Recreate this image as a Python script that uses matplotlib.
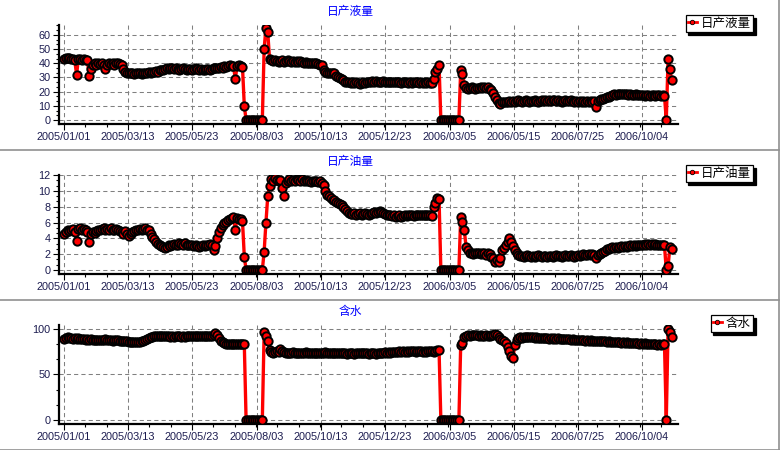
import matplotlib
matplotlib.use('Agg')
import matplotlib.pyplot as plt
from matplotlib.lines import Line2D
from matplotlib.ticker import AutoMinorLocator
import pandas as pd

plt.rcParams['font.family'] = ['Liberation Sans', 'Noto Sans CJK SC', 'DejaVu Sans']

# one reading every two days, starting 2005/01/01
start_date = '2005-01-01'
step = '2D'

liquid = [
    43, 44, 43.5, 44, 43, 43, 42, 32, 43, 43,
    42, 43, 42, 42, 31, 36, 39, 40, 39, 40,
    39.5, 40, 39, 36, 39, 40, 39.5, 40, 39, 40,
    40, 39.5, 39, 36, 34, 33.5, 33, 33.5, 33, 32.5,
    33, 33.5, 33, 32.5, 33, 33.5, 33, 34, 33.5, 34,
    34, 34.5, 34, 35, 35.5, 35, 36, 36.5, 36, 36.5,
    36.5, 36, 36.5, 36, 35.5, 36, 36.5, 36, 35.5, 36,
    36, 35.5, 36, 36.5, 36, 35.5, 36, 35, 35.5, 36,
    36, 35.5, 36, 36.5, 37, 36.5, 37, 37.5, 37, 38,
    37.5, 38, 38.5, 38, 38, 29, 38, 38.5, 38, 37.5,
    10, 0, 0, 0, 0, 0, 0, 0, 0, 0,
    0, 50, 65, 62, 43, 42, 41.5, 42, 41.5, 41,
    41.5, 42, 41, 41.5, 42, 41.5, 41, 41.5, 41, 41.5,
    41, 41.5, 41, 40.5, 41, 40.5, 40, 40.5, 40, 40,
    40, 39.5, 39, 38.5, 35, 34, 33.5, 33, 33.5, 33,
    33.4, 31, 30, 29.5, 29, 28, 27, 26.5, 26.5, 26,
    26.5, 26, 26.5, 26, 25.5, 26, 26.5, 26, 26.5, 27,
    27, 27.5, 27, 27.5, 27, 26.5, 27, 27.5, 27, 27,
    26.5, 27, 26.5, 27, 26.5, 27, 26.5, 26, 26.5, 27,
    26.5, 26, 26.5, 26, 26.5, 27, 26.5, 26, 26.5, 26,
    26.5, 26, 26.5, 26, 26, 29, 34, 36, 38.8, 0,
    0, 0, 0, 0, 0, 0, 0, 0, 0, 0,
    35, 32.5, 25, 22.5, 22, 22.5, 23, 22.5, 22, 22.5,
    22.5, 23, 22.5, 23, 22.5, 23, 22, 21, 19, 16,
    14, 12, 11.5, 12.5, 13, 12.5, 13, 13.5, 13, 13.5,
    13, 13.5, 14, 13.5, 13, 13.5, 14, 13.5, 13, 13.5,
    13.5, 14, 13.5, 13, 13.5, 14, 13.5, 14, 13.5, 14,
    13.5, 14, 14, 13.5, 14, 13.5, 13, 13.5, 14, 13.5,
    13.5, 14, 13.5, 13, 13.5, 13, 13.5, 13, 13.5, 13,
    13.5, 13, 13.5, 13, 13.5, 9.5, 13.5, 14, 14.5, 15,
    15.5, 16, 16.5, 17, 17.5, 18, 17.5, 18, 18.5, 18,
    18, 18.5, 18, 17.5, 18, 17.5, 17.5, 18, 17.5, 17.5,
    17.5, 17.5, 17, 17.5, 17.5, 17, 17.5, 17.5, 17, 17.5,
    17.5, 17, 17.5, 17, 0, 43, 36, 28,
]

oil = [
    4.6, 4.8, 5, 4.9, 5.1, 5.2, 4.8, 3.7, 5.2, 5.3,
    5, 5.2, 5.1, 4.8, 3.6, 4.5, 4.8, 4.7, 4.9, 5,
    5.1, 5.2, 5.3, 5, 5.2, 5.1, 5.3, 5, 5.1, 5.2,
    5, 4.9, 4.8, 4.6, 4.9, 4.5, 4.3, 4.6, 4.8, 4.9,
    5, 5.1, 5.2, 5.1, 5.2, 5.3, 5.1, 5, 4.6, 4.2,
    3.9, 3.6, 3.3, 3.1, 3, 2.9, 2.8, 2.9, 3.1, 3,
    3.2, 3.3, 3.1, 3.2, 3.4, 3.3, 3.2, 3.4, 3.2, 3.1,
    3.1, 3.2, 3, 3.1, 3, 2.9, 3, 3.1, 3, 3.2,
    3.2, 3.3, 3.1, 2.5, 3.0, 4.1, 4.8, 5.3, 5.7, 5.9,
    6.1, 6.3, 6.4, 6.6, 6.7, 5.0, 6.6, 6.5, 6.4, 6.2,
    1.7, 0, 0, 0, 0, 0, 0, 0, 0, 0,
    0, 2.3, 6.0, 9.3, 10.6, 11.5, 11.3, 11.6, 11.4, 11.2,
    11.4, 10.4, 9.3, 11.0, 11.3, 11.5, 11.2, 11.4, 11.3, 11.5,
    11.4, 11.2, 11.5, 11.3, 11.4, 11.2, 11.3, 11.1, 11.3, 11.2,
    11.2, 11.1, 11.2, 11.0, 10.7, 10.0, 9.5, 9.3, 9.1, 8.9,
    8.8, 8.6, 8.5, 8.4, 8.2, 8.0, 7.7, 7.4, 7.2, 7.1,
    7.1, 7.2, 7.0, 7.1, 7.2, 7.0, 7.1, 7.2, 7.1, 7.0,
    7.1, 7.2, 7.3, 7.2, 7.3, 7.4, 7.3, 7.2, 7.1, 7.0,
    7.0, 6.9, 6.8, 6.9, 6.7, 6.8, 6.9, 6.7, 6.8, 6.9,
    6.8, 6.9, 7.0, 6.9, 6.8, 7.0, 6.9, 7.0, 6.9, 7.0,
    7.0, 6.9, 7.0, 6.9, 6.8, 7.9, 8.5, 9.05, 9.0, 0,
    0, 0, 0, 0, 0, 0, 0, 0, 0, 0,
    6.7, 6.1, 5.0, 2.9, 2.5, 2.1, 2.2, 2.0, 2.1, 2.2,
    2.1, 2.0, 2.2, 2.1, 1.9, 2.2, 2.0, 1.7, 1.5, 1.05,
    1.3, 1.0, 1.5, 2.5, 2.8, 3.2, 3.6, 4.0, 3.6, 3.0,
    2.5, 2.2, 1.9, 1.8, 1.8, 1.7, 1.8, 1.9, 1.8, 1.7,
    1.8, 1.7, 1.8, 1.9, 1.8, 1.7, 1.8, 1.8, 1.7, 1.8,
    1.8, 1.7, 1.8, 1.9, 1.8, 1.8, 1.7, 1.8, 1.9, 1.8,
    1.8, 1.9, 1.8, 1.7, 1.8, 1.9, 1.8, 1.9, 2.0, 1.9,
    1.9, 2.0, 1.9, 2.0, 1.9, 1.5, 1.9, 2.0, 2.1, 2.3,
    2.4, 2.6, 2.7, 2.8, 2.9, 2.8, 2.9, 2.8, 2.9, 3.0,
    2.9, 3.0, 2.9, 3.0, 3.1, 3.0, 3.1, 3.0, 3.1, 3.2,
    3.1, 3.2, 3.3, 3.2, 3.3, 3.2, 3.3, 3.2, 3.3, 3.2,
    3.2, 3.1, 3.2, 3.1, 0, 0.5, 2.9, 2.6,
]

water_cut = [
    89, 90, 90.5, 89.5, 90, 89, 90, 89, 89.5, 89,
    88.5, 89, 88, 88.5, 88, 88.5, 88, 88, 87.5, 88,
    88, 87.5, 88, 88.5, 88, 87.5, 88, 87, 88, 87.5,
    87.5, 87, 86.5, 86, 86.5, 86, 85.5, 85, 85.5, 85,
    85.5, 85, 85.5, 86, 87, 88, 89, 90, 90.5, 91,
    91.5, 92, 92.5, 92, 91.5, 92, 92.5, 92, 91.5, 91,
    91.5, 91, 91.5, 92, 91.5, 91, 91.5, 91, 91.5, 92,
    91.5, 92, 91.5, 92, 91.5, 92, 92.5, 92, 91.5, 92,
    92, 92.5, 92, 93, 95, 93, 90, 87, 85, 84,
    83.5, 83, 83.5, 83, 83.5, 83, 83.5, 83, 83.5, 83.6,
    83, 0, 0, 0, 0, 0, 0, 0, 0, 0,
    0, 96, 92, 87, 77, 74, 73.5, 74, 75, 74,
    78, 76, 74, 73.5, 73, 73.5, 73, 74, 73, 73.5,
    73, 73.5, 73, 73.5, 74, 73, 73.5, 73, 73.5, 73,
    73.5, 73, 73.5, 73, 73.5, 74, 73, 73.5, 73, 73.5,
    73, 73.5, 73, 73.5, 73, 73.5, 73, 72.5, 73, 73.5,
    73, 72.5, 73, 73.5, 73, 73.5, 73, 73.5, 73, 72.5,
    73, 73.5, 73, 72.5, 73, 73.5, 73, 73.5, 74, 73.5,
    74, 73.5, 74, 74.5, 74, 74.5, 75, 74.5, 75, 74.5,
    75, 74.5, 75, 75.5, 75, 74.5, 75, 75.5, 75, 74.5,
    75, 74.5, 75, 75.5, 75, 74.5, 75, 76.4, 76.4, 0,
    0, 0, 0, 0, 0, 0, 0, 0, 0, 0,
    82, 84, 91, 92.5, 93, 92.5, 93, 93.5, 93, 93,
    92.5, 93, 92, 92.5, 93, 92.5, 92, 93, 93.5, 94.5,
    93, 91, 89, 88, 86, 84, 80, 76, 70, 68,
    82, 88, 90, 90.5, 90, 90.5, 91, 90.5, 91, 90.5,
    90.5, 90, 90.5, 90, 89.5, 90, 89.5, 90, 89.5, 89,
    89.5, 89, 89.5, 89, 89.5, 89, 88.5, 89, 88.5, 89,
    88.5, 88, 88.5, 88, 87.5, 88, 87.5, 88, 87.5, 87,
    87.5, 87, 87.5, 87, 86.5, 87, 86.5, 86, 86.5, 86,
    86, 85.5, 86, 85.5, 85, 85.5, 85, 85.5, 85, 84.5,
    85, 84.5, 85, 84.5, 84, 84.5, 84, 84.5, 84, 83.5,
    84, 83.5, 84, 83.5, 83, 83.5, 83, 83.5, 83, 82.5,
    83, 82.5, 83, 83, 0, 100, 96, 91,
]

tick_labels = ['2005/01/01', '2005/03/13', '2005/05/23', '2005/08/03', '2005/10/13',
               '2005/12/23', '2006/03/05', '2006/05/15', '2006/07/25', '2006/10/04']
titles = ['日产液量', '日产油量', '含水']
series = [liquid, oil, water_cut]
y_ticks = [[0, 10, 20, 30, 40, 50, 60], [0, 2, 4, 6, 8, 10, 12], [0, 50, 100]]
y_lims = [(-2.8, 67), (-0.5, 12), (-4.4, 104)]

W, H = 780, 450
fig = plt.figure(figsize=(W / 100, H / 100), dpi=100)

dates = pd.date_range(start_date, periods=len(liquid), freq=step)
tick_pos = pd.to_datetime(tick_labels, format='%Y/%m/%d')
x0 = pd.Timestamp(start_date) - pd.Timedelta(days=5.5)
x1 = pd.Timestamp(start_date) + pd.Timedelta(days=681)

for i in range(3):
    top = 25 + 150 * i
    ax = fig.add_axes([59 / W, 1 - (top + 99) / H, 619 / W, 99 / H])
    ax.plot(dates, series[i], color='red', lw=2.4, marker='o', ms=6,
            mfc='red', mec='black', mew=1.4, zorder=3)
    ax.set_xlim(x0, x1)
    ax.set_ylim(*y_lims[i])
    ax.set_yticks(y_ticks[i])
    ax.set_xticks(tick_pos)
    ax.set_xticklabels(tick_labels)
    ax.xaxis.set_minor_locator(AutoMinorLocator(3))
    ax.yaxis.set_minor_locator(AutoMinorLocator(3))
    for s in ['top', 'right']:
        ax.spines[s].set_visible(False)
    for s in ['left', 'bottom']:
        ax.spines[s].set_linewidth(1.6)
    ax.tick_params(which='major', direction='out', length=4, width=0.8,
                   labelsize=7.8, labelcolor='#1c1c50', pad=2)
    ax.tick_params(which='minor', direction='out', length=2.5, width=0.8)
    ax.grid(True, which='major', color='#808080', lw=0.75, linestyle=(0, (4, 3)))
    ax.set_axisbelow(True)

    fig.text(350 / W, 1 - (12 + 150 * i) / H, titles[i], color='blue',
             ha='center', va='center', fontsize=8.5)

    handle = Line2D([], [], color='red', lw=2, marker='o', ms=3.2,
                    mfc='red', mec='black', mew=0.6)
    leg = ax.legend([handle], [titles[i]], loc='upper right',
                    bbox_to_anchor=(753 / W, 1 - (15 + 150 * i) / H),
                    bbox_transform=fig.transFigure, borderaxespad=0,
                    fontsize=9, handlelength=0.7, handletextpad=0.3,
                    borderpad=0.2, fancybox=False, framealpha=1,
                    edgecolor='black', shadow={'color': 'black', 'alpha': 1})
    leg.get_frame().set_linewidth(0.9)

# panel frames
for yy in [149.5, 299.5, 449.5]:
    fig.add_artist(Line2D([0, 779 / W], [1 - yy / H] * 2, transform=fig.transFigure,
                          color='#909090', lw=1.2))
fig.add_artist(Line2D([778.5 / W] * 2, [0, 1], transform=fig.transFigure,
                      color='#909090', lw=1.2))

fig.savefig('out.png', dpi=100)
